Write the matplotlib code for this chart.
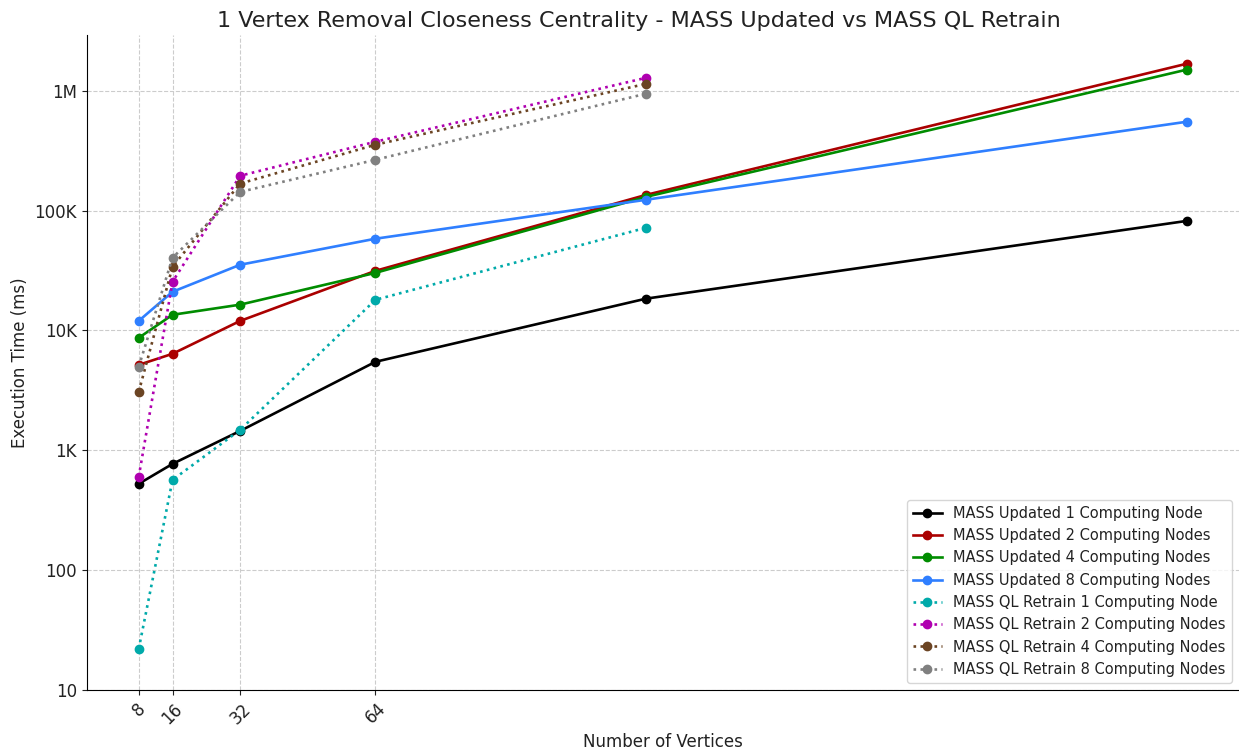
import matplotlib.pyplot as plt
from matplotlib.ticker import FixedLocator, FuncFormatter

vertices = [8, 16, 32, 64, 128, 256]
tick_vertices = [8, 16, 32, 64]

updated_1 = [525, 770, 1450, 5470, 18400, 82000]
updated_2 = [5160, 6380, 12000, 31400, 135000, 1680000]
updated_4 = [8670, 13500, 16400, 30200, 130000, 1500000]
updated_8 = [12000, 21000, 35300, 58200, 123000, 551000]

ql_1 = [22, 566, 1480, 18000, 71800]
ql_2 = [600, 25500, 195000, 375000, 1280000]
ql_4 = [3070, 34000, 168000, 354000, 1140000]
ql_8 = [4970, 40400, 143000, 265000, 944000]

plt.rcParams['text.color'] = '#222222'
plt.rcParams['axes.labelcolor'] = '#222222'
plt.rcParams['xtick.color'] = '#222222'
plt.rcParams['ytick.color'] = '#222222'

fig, ax = plt.subplots(figsize=(12.39, 7.5), dpi=100)
fig.subplots_adjust(left=0.07, right=1.0, top=0.953, bottom=0.08)

solid = [
    ('MASS Updated 1 Computing Node', updated_1, 'black'),
    ('MASS Updated 2 Computing Nodes', updated_2, '#aa0000'),
    ('MASS Updated 4 Computing Nodes', updated_4, '#008c00'),
    ('MASS Updated 8 Computing Nodes', updated_8, '#2f7fff'),
]
dotted = [
    ('MASS QL Retrain 1 Computing Node', ql_1, '#00aaaa'),
    ('MASS QL Retrain 2 Computing Nodes', ql_2, '#b000b0'),
    ('MASS QL Retrain 4 Computing Nodes', ql_4, '#6b4423'),
    ('MASS QL Retrain 8 Computing Nodes', ql_8, '#808080'),
]

for label, vals, c in solid:
    ax.plot(vertices[:len(vals)], vals, '-o', color=c, label=label, lw=1.9, ms=6)
for label, vals, c in dotted:
    ax.plot(vertices[:len(vals)], vals, ':o', color=c, label=label, lw=1.9, ms=6)

ax.set_yscale('log')
ax.set_ylim(10, 2.9e6)
ax.set_xlim(-4.3, 268.3)

def fmt(v, pos):
    if v >= 1e6:
        return f'{int(v / 1e6)}M'
    if v >= 1e3:
        return f'{int(v / 1e3)}K'
    return f'{int(v)}'

ax.yaxis.set_major_locator(FixedLocator([10, 100, 1e3, 1e4, 1e5, 1e6]))
ax.yaxis.set_major_formatter(FuncFormatter(fmt))
ax.yaxis.set_minor_locator(FixedLocator([]))
ax.set_xticks(tick_vertices)
ax.set_xticklabels([str(v) for v in tick_vertices], rotation=45, fontsize=12)
ax.tick_params(axis='y', labelsize=12)

ax.grid(True, linestyle='--', color='#cccccc', linewidth=0.8)
ax.spines['top'].set_visible(False)
ax.spines['right'].set_visible(False)

ax.set_title('1 Vertex Removal Closeness Centrality - MASS Updated vs MASS QL Retrain',
             fontsize=16, x=0.479)
ax.set_xlabel('Number of Vertices', fontsize=12)
ax.set_ylabel('Execution Time (ms)', fontsize=12)
ax.legend(loc='lower right', fontsize=10.5)

plt.savefig('out.png')
